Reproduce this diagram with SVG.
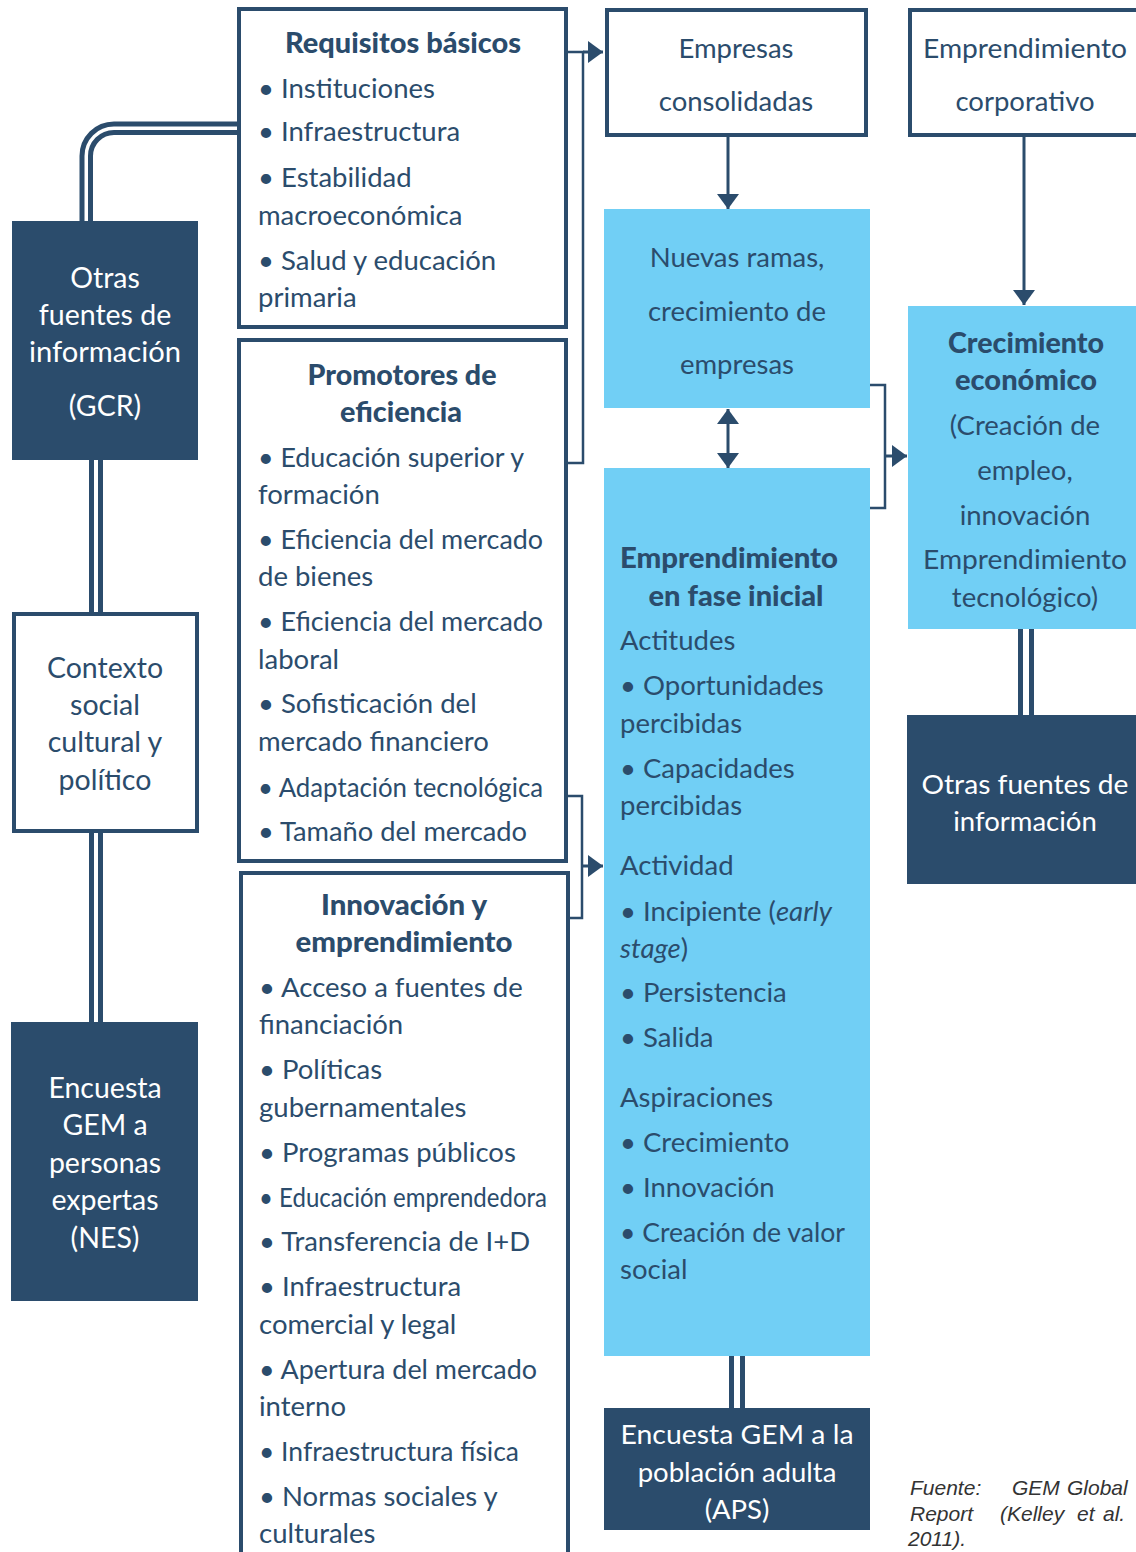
<svg xmlns="http://www.w3.org/2000/svg" width="1136" height="1552" viewBox="0 0 1136 1552">
<defs>
<style>
text{font-family:Lato,"Noto Sans",sans-serif;font-size:27.5px;fill:#2b4c6c}
.w{fill:#fff}
.b{font-weight:900}
.c{text-anchor:middle}
.l{font-size:28.5px}
.box{fill:#fff;stroke:#2b4c6c;stroke-width:4}
.dark{fill:#2b4c6c}
.light{fill:#71cff5}
.ln{fill:none;stroke:#2b4c6c;stroke-width:5}
.thin{fill:none;stroke:#2b4c6c;stroke-width:2.5}
.arr{fill:none;stroke:#2b4c6c;stroke-width:3}
.note{font-family:"Liberation Sans",sans-serif;font-style:italic;font-size:21px;fill:#333}
</style>
<marker id="ah" markerUnits="userSpaceOnUse" markerWidth="16" markerHeight="22" refX="15" refY="11" orient="auto-start-reverse" viewBox="0 0 16 22"><path d="M0,0 L15,11 L0,22 z" fill="#2b4c6c"/></marker>
</defs>
<rect width="1136" height="1552" fill="#fff"/>
<g id="connectors">
<path class="ln" d="M82,221 V156 A32,32 0 0 1 114,124 H239"/>
<path class="ln" d="M90.5,221 V156 A23.5,23.5 0 0 1 114,132.5 H239"/>
<path class="ln" d="M91.5,460 V612 M100.5,460 V612"/>
<path class="ln" d="M91.5,833 V1022 M100.5,833 V1022"/>
<path class="thin" d="M566,52 H583 V463 H566"/>
<path class="arr" d="M583,52 H603" marker-end="url(#ah)"/>
<path class="thin" d="M566,796 H582 V918 H568"/>
<path class="arr" d="M582,866 H603" marker-end="url(#ah)"/>
<path class="thin" d="M870,385 H885 V508 H870"/>
<path class="arr" d="M885,456 H907" marker-end="url(#ah)"/>
<path class="arr" d="M728,137 V209" marker-end="url(#ah)"/>
<path class="arr" d="M1024,137 V305" marker-end="url(#ah)"/>
<path class="arr" d="M728,409 V468" marker-start="url(#ah)" marker-end="url(#ah)"/>
<path class="ln" d="M731.5,1356 V1408 M742.5,1356 V1408"/>
<path class="ln" d="M1020.5,627 V715 M1031.5,627 V715"/>
</g>
<g id="gcr">
<rect class="dark" x="12" y="221" width="186" height="239"/>
<text class="w c l" x="105" y="288">Otras</text>
<text class="w c l" x="105" y="325">fuentes de</text>
<text class="w c l" x="105" y="362" textLength="152" lengthAdjust="spacingAndGlyphs">información</text>
<text class="w c l" x="105" y="416">(GCR)</text>
</g>
<g id="contexto">
<rect class="box" x="14" y="614" width="183" height="217"/>
<text class="c l" x="105" y="678">Contexto</text>
<text class="c l" x="105" y="715">social</text>
<text class="c l" x="105" y="752">cultural y</text>
<text class="c l" x="105" y="790">político</text>
</g>
<g id="nes">
<rect class="dark" x="11" y="1022" width="187" height="279"/>
<text class="w c l" x="105" y="1098">Encuesta</text>
<text class="w c l" x="105" y="1135">GEM a</text>
<text class="w c l" x="105" y="1173">personas</text>
<text class="w c l" x="105" y="1210">expertas</text>
<text class="w c l" x="105" y="1248">(NES)</text>
</g>
<g id="requisitos">
<rect class="box" x="239" y="9" width="327" height="318"/>
<text class="b c" x="403" y="53" textLength="236" lengthAdjust="spacingAndGlyphs">Requisitos básicos</text>
<text x="258" y="98">• Instituciones</text>
<text x="258" y="141">• Infraestructura</text>
<text x="258" y="187">• Estabilidad</text>
<text x="258" y="225">macroeconómica</text>
<text x="258" y="270">• Salud y educación</text>
<text x="258" y="307">primaria</text>
</g>
<g id="promotores">
<rect class="box" x="239" y="340" width="327" height="521"/>
<text class="b c" x="402" y="385" textLength="189" lengthAdjust="spacingAndGlyphs">Promotores de</text>
<text class="b c" x="401" y="422" textLength="122" lengthAdjust="spacingAndGlyphs">eficiencia</text>
<text x="258" y="467" textLength="266" lengthAdjust="spacingAndGlyphs">• Educación superior y</text>
<text x="258" y="504">formación</text>
<text x="258" y="549" textLength="285" lengthAdjust="spacingAndGlyphs">• Eficiencia del mercado</text>
<text x="258" y="586">de bienes</text>
<text x="258" y="631" textLength="285" lengthAdjust="spacingAndGlyphs">• Eficiencia del mercado</text>
<text x="258" y="669">laboral</text>
<text x="258" y="713">• Sofisticación del</text>
<text x="258" y="751">mercado financiero</text>
<text x="258" y="797" textLength="285" lengthAdjust="spacingAndGlyphs">• Adaptación tecnológica</text>
<text x="258" y="841" textLength="269" lengthAdjust="spacingAndGlyphs">• Tamaño del mercado</text>
</g>
<g id="innovacion">
<rect class="box" x="241" y="873" width="327" height="700"/>
<text class="b c" x="404" y="915" textLength="166" lengthAdjust="spacingAndGlyphs">Innovación y</text>
<text class="b c" x="404" y="952" textLength="217" lengthAdjust="spacingAndGlyphs">emprendimiento</text>
<text x="259" y="997">• Acceso a fuentes de</text>
<text x="259" y="1034">financiación</text>
<text x="259" y="1079">• Políticas</text>
<text x="259" y="1117">gubernamentales</text>
<text x="259" y="1162">• Programas públicos</text>
<text x="259" y="1207" textLength="288" lengthAdjust="spacingAndGlyphs">• Educación emprendedora</text>
<text x="259" y="1251">• Transferencia de I+D</text>
<text x="259" y="1296">• Infraestructura</text>
<text x="259" y="1334">comercial y legal</text>
<text x="259" y="1379" textLength="278" lengthAdjust="spacingAndGlyphs">• Apertura del mercado</text>
<text x="259" y="1416">interno</text>
<text x="259" y="1461" textLength="260" lengthAdjust="spacingAndGlyphs">• Infraestructura física</text>
<text x="259" y="1506">• Normas sociales y</text>
<text x="259" y="1543">culturales</text>
</g>
<g id="empresas">
<rect class="box" x="607" y="10" width="259" height="125"/>
<text class="c" x="736" y="58">Empresas</text>
<text class="c" x="736" y="111">consolidadas</text>
</g>
<g id="nuevas">
<rect class="light" x="604" y="209" width="266" height="199"/>
<text class="c" x="737" y="267">Nuevas ramas,</text>
<text class="c" x="737" y="321">crecimiento de</text>
<text class="c" x="737" y="374">empresas</text>
</g>
<g id="fase-inicial">
<rect class="light" x="604" y="468" width="266" height="888"/>
<text class="b c" x="729" y="568" textLength="218" lengthAdjust="spacingAndGlyphs">Emprendimiento</text>
<text class="b c" x="736" y="606" textLength="175" lengthAdjust="spacingAndGlyphs">en fase inicial</text>
<text x="620" y="650">Actitudes</text>
<text x="620" y="695">• Oportunidades</text>
<text x="620" y="733">percibidas</text>
<text x="620" y="778">• Capacidades</text>
<text x="620" y="815">percibidas</text>
<text x="620" y="875">Actividad</text>
<text x="620" y="921">• Incipiente (<tspan font-style="italic">early</tspan></text>
<text x="620" y="958"><tspan font-style="italic">stage</tspan>)</text>
<text x="620" y="1002">• Persistencia</text>
<text x="620" y="1047">• Salida</text>
<text x="620" y="1107">Aspiraciones</text>
<text x="620" y="1152">• Crecimiento</text>
<text x="620" y="1197">• Innovación</text>
<text x="620" y="1242" textLength="225" lengthAdjust="spacingAndGlyphs">• Creación de valor</text>
<text x="620" y="1279">social</text>
</g>
<g id="aps">
<rect class="dark" x="604" y="1408" width="266" height="122"/>
<text class="w c" x="737" y="1444" textLength="233" lengthAdjust="spacingAndGlyphs">Encuesta GEM a la</text>
<text class="w c" x="737" y="1482">población adulta</text>
<text class="w c" x="737" y="1519">(APS)</text>
</g>
<g id="corporativo">
<rect class="box" x="910" y="10" width="240" height="125"/>
<text class="c" x="1025" y="58" textLength="204" lengthAdjust="spacingAndGlyphs">Emprendimiento</text>
<text class="c" x="1025" y="111">corporativo</text>
</g>
<g id="crecimiento">
<rect class="light" x="908" y="306" width="240" height="323"/>
<text class="b c" x="1026" y="353" textLength="156" lengthAdjust="spacingAndGlyphs">Crecimiento</text>
<text class="b c" x="1026" y="390" textLength="142" lengthAdjust="spacingAndGlyphs">económico</text>
<text class="c" x="1025" y="435">(Creación de</text>
<text class="c" x="1025" y="480">empleo,</text>
<text class="c" x="1025" y="525">innovación</text>
<text class="c" x="1025" y="569" textLength="204" lengthAdjust="spacingAndGlyphs">Emprendimiento</text>
<text class="c" x="1025" y="607">tecnológico)</text>
</g>
<g id="otras-fuentes">
<rect class="dark" x="907" y="715" width="240" height="169"/>
<text class="w c" x="1025" y="794" textLength="207" lengthAdjust="spacingAndGlyphs">Otras fuentes de</text>
<text class="w c" x="1025" y="831">información</text>
</g>
<g id="fuente">
<text class="note" x="910" y="1495">Fuente:</text>
<text class="note" x="1012" y="1495">GEM</text>
<text class="note" x="1067" y="1495">Global</text>
<text class="note" x="910" y="1521">Report</text>
<text class="note" x="1000" y="1521">(Kelley</text>
<text class="note" x="1077" y="1521">et</text>
<text class="note" x="1103" y="1521">al.</text>
<text class="note" x="908" y="1546">2011).</text>
</g>
</svg>
